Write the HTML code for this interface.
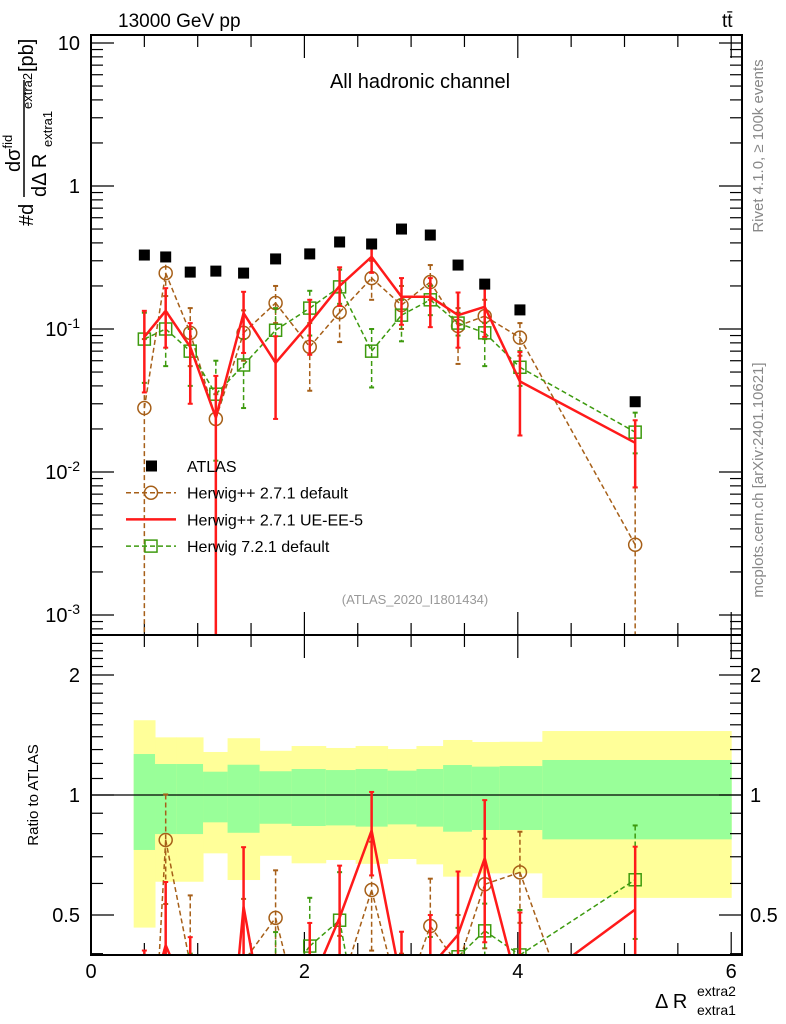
<!DOCTYPE html>
<html><head><meta charset="utf-8">
<style>
html,body{margin:0;background:#fff;overflow:hidden;width:786px;height:1024px;}
svg{display:block;font-family:"Liberation Sans",sans-serif;}
</style></head>
<body>
<svg id="c" width="786" height="1024" viewBox="0 0 786 1024" xmlns="http://www.w3.org/2000/svg">
<defs>
<clipPath id="clipMain"><rect x="91" y="35" width="651" height="600"/></clipPath>
<clipPath id="clipRatio"><rect x="91" y="635" width="651" height="320"/></clipPath>
</defs>
<g id="bands" clip-path="url(#clipRatio)"></g>
<g id="ticks"></g>
<g id="mainMarks" clip-path="url(#clipMain)"></g>
<g id="ratioMarks" clip-path="url(#clipRatio)"></g>
<rect x="91" y="35" width="651" height="600" fill="none" stroke="#000" stroke-width="2"/>
<rect x="91" y="635" width="651" height="320" fill="none" stroke="#000" stroke-width="2"/>
<text x="118" y="27" font-size="19">13000 GeV pp</text>
<text x="722" y="27" font-size="19">tt̄</text>
<text x="420" y="88" font-size="20" text-anchor="middle">All hadronic channel</text>
<text x="415" y="604" font-size="13" fill="#999" text-anchor="middle">(ATLAS_2020_I1801434)</text>
<text transform="translate(763,146) rotate(-90)" font-size="15" fill="#888" text-anchor="middle">Rivet 4.1.0, ≥ 100k events</text>
<text transform="translate(763,480) rotate(-90)" font-size="15" fill="#888" text-anchor="middle">mcplots.cern.ch [arXiv:2401.10621]</text>
<g>
<text transform="translate(33,226) rotate(-90)" font-size="20">#d</text>
<line x1="24" y1="197" x2="24" y2="80" stroke="#000" stroke-width="1.5"/>
<text transform="translate(20,172) rotate(-90)" font-size="20">dσ<tspan font-size="13" dy="-8">fid</tspan></text>
<text transform="translate(46,197) rotate(-90)" font-size="20">dΔ R</text>
<text transform="translate(52,147) rotate(-90)" font-size="13">extra1</text>
<text transform="translate(32,109) rotate(-90)" font-size="13">extra2</text>
<text transform="translate(33,72) rotate(-90)" font-size="20">[pb]</text>
</g>
<text transform="translate(38,795) rotate(-90)" font-size="15" text-anchor="middle">Ratio to ATLAS</text>
<g>
<text x="655" y="1008" font-size="20">Δ R</text>
<text x="697" y="1015" font-size="14">extra1</text>
<text x="697" y="996" font-size="14">extra2</text>
</g>
<g id="legend"></g>
</svg>
<script>
const edges=[0.4,0.6,0.8,1.05,1.28,1.58,1.88,2.2,2.48,2.78,3.05,3.3,3.57,3.83,4.23,6.0];
const centers=[0.5,0.7,0.93,1.17,1.43,1.73,2.05,2.33,2.63,2.91,3.18,3.44,3.69,4.02,5.1];
const atlas=[0.329,0.319,0.25,0.254,0.246,0.309,0.335,0.406,0.393,0.5,0.454,0.28,0.206,0.136,0.031];
const hppVal=[0.028,0.246,0.094,0.0235,0.094,0.152,0.075,0.131,0.227,0.147,0.213,0.105,0.123,0.087,0.0031];
const hppUp=[0.085,0.32,0.14,0.035,0.135,0.2,0.11,0.18,0.3,0.2,0.28,0.14,0.16,0.11,0.0078];
const hppDn=[0.0001,0.17,0.055,0.0001,0.06,0.11,0.037,0.081,0.16,0.1,0.16,0.057,0.085,0.065,0.0001];
const ueVal=[0.088,0.134,0.075,0.024,0.129,0.058,0.11,0.2,0.32,0.168,0.168,0.125,0.143,0.043,0.016];
const ueUp=[0.134,0.193,0.11,0.047,0.182,0.089,0.16,0.27,0.4,0.227,0.227,0.18,0.2,0.069,0.023];
const ueDn=[0.036,0.074,0.03,0.0001,0.068,0.0235,0.066,0.145,0.247,0.107,0.103,0.074,0.088,0.018,0.0078];
const h7Val=[0.085,0.1,0.07,0.035,0.056,0.098,0.14,0.197,0.07,0.125,0.16,0.11,0.094,0.054,0.019];
const h7Up=[0.13,0.13,0.1,0.06,0.085,0.14,0.185,0.26,0.1,0.16,0.2,0.13,0.11,0.07,0.026];
const h7Dn=[0.042,0.055,0.04,0.012,0.028,0.06,0.09,0.15,0.039,0.082,0.125,0.09,0.055,0.04,0.0135];
const yelUp=[1.54,1.395,1.395,1.282,1.388,1.291,1.327,1.312,1.327,1.304,1.327,1.374,1.358,1.36,1.447];
const yelDn=[0.465,0.606,0.606,0.714,0.612,0.704,0.674,0.687,0.672,0.691,0.67,0.624,0.636,0.636,0.552];
const grnUp=[1.267,1.196,1.196,1.144,1.191,1.147,1.162,1.155,1.162,1.151,1.162,1.189,1.178,1.182,1.224];
const grnDn=[0.728,0.798,0.798,0.854,0.804,0.847,0.836,0.839,0.833,0.844,0.833,0.809,0.817,0.817,0.774];
const xTicks=[0,2,4,6];
const mainTicks=[10,1,0.1,0.01,0.001];
const ratioTicks=[2,1,0.5];

const NS="http://www.w3.org/2000/svg";
const X=v=>91+v*106.7;
const Y=v=>186-143*Math.log10(v);
const R=v=>795-398.7*Math.log10(v);
function mk(tag,attrs,parent){const e=document.createElementNS(NS,tag);for(const k in attrs)e.setAttribute(k,attrs[k]);parent.appendChild(e);return e;}
const ticks=document.getElementById('ticks');
const bands=document.getElementById('bands');
const mm=document.getElementById('mainMarks');
const rm=document.getElementById('ratioMarks');
const svg=document.getElementById('c');

for(let i=0;i<centers.length;i++){
  const x0=X(edges[i]),x1=X(edges[i+1]);
  const y=mk('rect',{x:x0,y:R(yelUp[i]),width:x1-x0+0.5,height:Math.min(R(yelDn[i]),955)-R(yelUp[i]),fill:'#ffff99'},bands);
  
  
  const g=mk('rect',{x:x0,y:R(grnUp[i]),width:x1-x0+0.5,height:R(grnDn[i])-R(grnUp[i]),fill:'#99ff99'},bands);
  
  
}
mk('line',{x1:91,x2:742,y1:R(1),y2:R(1),stroke:'#000','stroke-width':1.2},bands);

for(let v=0;v<=6.01;v+=0.5){
  const major=Math.abs(v-Math.round(v/2)*2)<0.01;
  const L=major?23:12;
  [[35,1],[635,-1],[635,1],[955,-1]].forEach(([y0,d])=>{mk('line',{x1:X(v),x2:X(v),y1:y0,y2:y0+d*L,stroke:'#000','stroke-width':1.2},ticks);});
}
xTicks.forEach(v=>{const t=mk('text',{x:X(v),y:978,'font-size':20,'text-anchor':'middle'},svg);t.textContent=v;

});
for(let e=-4;e<=1;e++){for(let m=1;m<10;m++){const v=m*Math.pow(10,e);const y=Y(v);if(y<35||y>635)continue;const L=m==1?23:12;
mk('line',{x1:91,x2:91+L,y1:y,y2:y,stroke:'#000','stroke-width':1.2},ticks);mk('line',{x1:742,x2:742-L,y1:y,y2:y,stroke:'#000','stroke-width':1.2},ticks);}}
mainTicks.forEach((v,i)=>{const t=mk('text',{x:80,y:Y(v)+7,'font-size':20,'text-anchor':'end'},svg);


if(v>=1)t.textContent=String(v);else{t.textContent='10';const s=mk('tspan',{'font-size':14,dy:-8},t);s.textContent=String(Math.round(Math.log10(v)));}});
for(let v=0.4;v<=2.5;v+=0.1){const y=R(v);if(y<635||y>955)continue;const major=[0.5,1,2].some(a=>Math.abs(a-v)<0.001);const L=major?23:12;
mk('line',{x1:91,x2:91+L,y1:y,y2:y,stroke:'#000','stroke-width':1.2},ticks);mk('line',{x1:742,x2:742-L,y1:y,y2:y,stroke:'#000','stroke-width':1.2},ticks);}
ratioTicks.forEach(v=>{[[80,'end'],[750,'start']].forEach(([x,a])=>{const t=mk('text',{x:x,y:R(v)+7,'font-size':20,'text-anchor':a},svg);t.textContent=v;

});});

function marker(kind,x,y,col,p){
  if(kind=='circle')mk('circle',{cx:x,cy:y,r:6.5,fill:'none',stroke:col,'stroke-width':1.5},p);
  else if(kind=='square')mk('rect',{x:x-6,y:y-6,width:12,height:12,fill:'none',stroke:col,'stroke-width':1.5},p);
}
function series(name,vals,ups,dns,col,w,dash,kind,ratio){
  const p=ratio?rm:mm;const F=ratio?R:Y;
  const lo=ratio?957:637;
  const g=mk('g',{},p);
  
  
  const sc=i=>ratio?atlas[i]:1;
  const pts=vals.map((v,i)=>[X(centers[i]),F(v/sc(i))]);
  let d='';
  for(let i=0;i<pts.length-1;i++){
    let [x1,y1]=pts[i],[x2,y2]=pts[i+1];
    if(y1>lo&&y2>lo)continue;
    if(y1>lo){x1=x1+(x2-x1)*(lo-y1)/(y2-y1);y1=lo;}
    if(y2>lo){x2=x1+(x2-x1)*(lo-y1)/(y2-y1);y2=lo;}
    d+='M'+x1+','+y1+'L'+x2+','+y2;
  }
  if(d)mk('path',{d:d,fill:'none',stroke:col,'stroke-width':w,'stroke-dasharray':dash,'stroke-linejoin':'round'},g);
  vals.forEach((v,i)=>{const x=X(centers[i]);const y1=F(ups[i]/sc(i)),y2=F(Math.max(dns[i],1e-6)/sc(i));
    if(y1<lo){
    mk('line',{x1:x,x2:x,y1:y1,y2:Math.min(y2,lo),stroke:col,'stroke-width':w,'stroke-dasharray':dash},g);
    mk('line',{x1:x-2.5,x2:x+2.5,y1:y1,y2:y1,stroke:col,'stroke-width':2},g);}
    if(y2<lo)mk('line',{x1:x-2.5,x2:x+2.5,y1:y2,y2:y2,stroke:col,'stroke-width':2},g);
    const my=F(v/sc(i));if(my<lo+8)marker(kind,x,my,col,g);});
}
const brown='#a65f18',green='#3d9a0e',red='#ff1a1a';
[false,true].forEach(r=>{
  series('herwigpp-default',hppVal,hppUp,hppDn,brown,1.5,'5,3','circle',r);
  series('herwig7-default',h7Val,h7Up,h7Dn,green,1.5,'5,3','square',r);
  series('herwigpp-ue-ee-5',ueVal,ueUp,ueDn,red,2.5,'','none',r);
});
atlas.forEach((v,i)=>{const s=mk('rect',{x:X(centers[i])-5.5,y:Y(v)-5.5,width:11,height:11,fill:'#000'},mm);

});

const lg=document.getElementById('legend');
const items=[['ATLAS','atlas'],['Herwig++ 2.7.1 default','hpp'],['Herwig++ 2.7.1 UE-EE-5','ue'],['Herwig 7.2.1 default','h7']];
items.forEach((it,i)=>{const y=466+i*26.7;const g=mk('g',{},lg);


if(it[1]=='atlas')mk('rect',{x:146,y:y-5.5,width:11,height:11,fill:'#000'},g);
else if(it[1]=='hpp'){mk('line',{x1:126,x2:176,y1:y,y2:y,stroke:brown,'stroke-width':1.5,'stroke-dasharray':'5,3'},g);marker('circle',151,y,brown,g);}
else if(it[1]=='ue')mk('line',{x1:126,x2:176,y1:y,y2:y,stroke:red,'stroke-width':2.5},g);
else{mk('line',{x1:126,x2:176,y1:y,y2:y,stroke:green,'stroke-width':1.5,'stroke-dasharray':'5,3'},g);marker('square',151,y,green,g);}
const t=mk('text',{x:187,y:y+6,'font-size':16},g);t.textContent=it[0];});
</script>
</body></html>
